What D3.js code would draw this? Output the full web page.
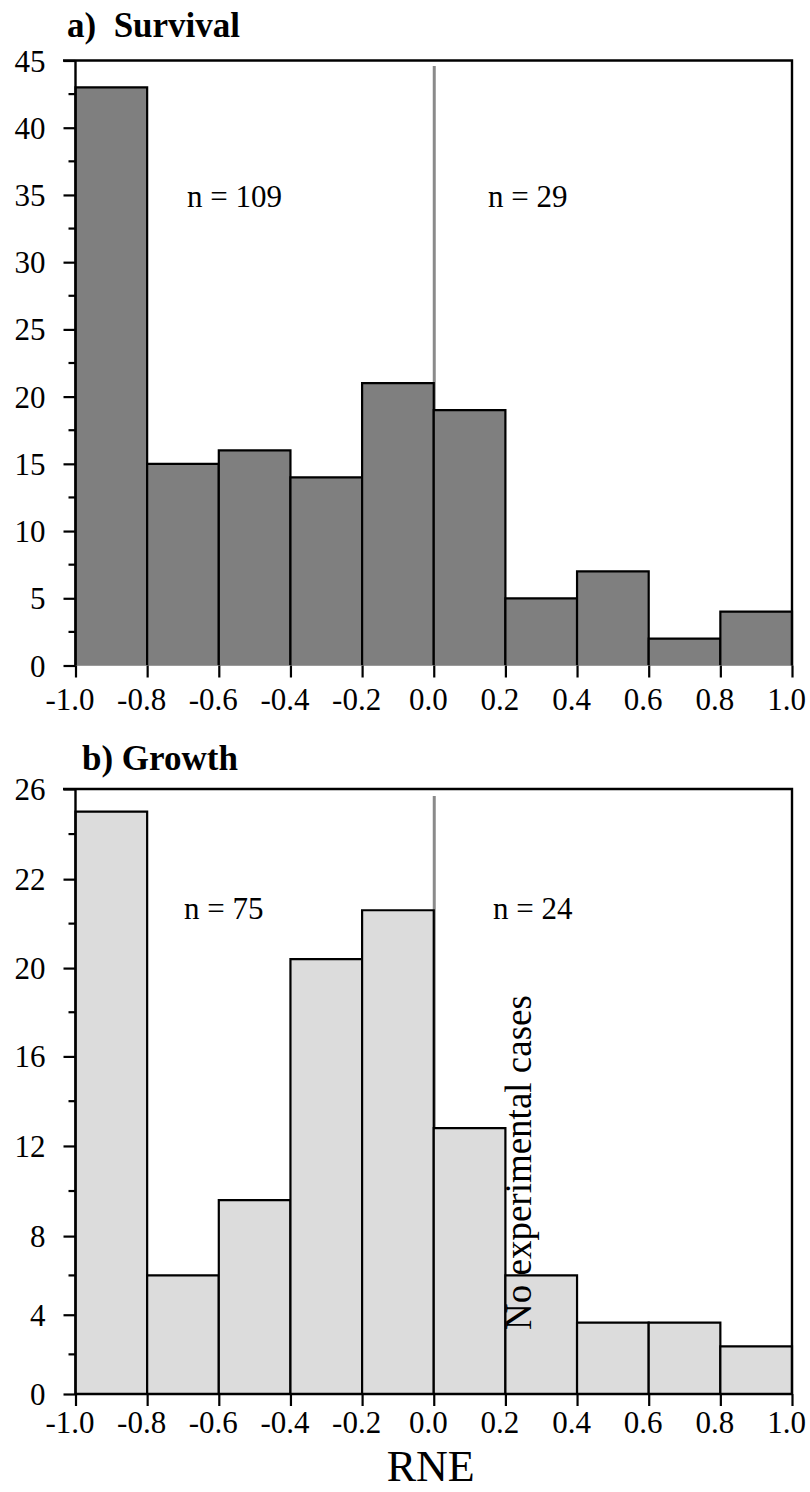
<!DOCTYPE html>
<html>
<head>
<meta charset="utf-8">
<script src="https://cdn.jsdelivr.net/npm/d3@7"></script>
<style>
  body { margin: 0; background: #fff; }
  text { font-family: "Liberation Serif", "Times New Roman", serif; fill: #000; }
</style>
</head>
<body>
<div id="chart"></div>
<script>
// bins and counts
const binEdges = [-1.0, -0.8, -0.6, -0.4, -0.2, 0.0, 0.2, 0.4, 0.6, 0.8, 1.0];
const survivalCounts = [43, 15, 16, 14, 21, 19, 5, 7, 2, 4];
const growthCounts = [25, 6, 9.6, 20.2, 21.3, 12.8, 6, 3.6, 3.6, 2.4];
const xTicks = [-1.0, -0.8, -0.6, -0.4, -0.2, 0.0, 0.2, 0.4, 0.6, 0.8, 1.0];
const xTickLabels = ["-1.0", "-0.8", "-0.6", "-0.4", "-0.2", "0.0", "0.2", "0.4", "0.6", "0.8", "1.0"];
const survivalTicks = [0, 5, 10, 15, 20, 25, 30, 35, 40, 45];
const growthTicks = [0, 4, 8, 12, 16, 20, 22, 26];
const survivalN = ["n = 109", "n = 29"];
const growthN = ["n = 75", "n = 24"];

const width = 810, height = 1492;

const svg = d3.select("#chart")
  .append("svg")
    .attr("width", width)
    .attr("height", height);

// shared x scale
const x = d3.scaleLinear()
  .domain([-1, 1])
  .range([75.5, 792]);

// panel a: plain linear
const ySurv = d3.scaleLinear()
  .domain([0, 45])
  .range([665.5, 60.5]);

// panel b: the original axis is not evenly spaced, so map tick to tick
const gTop = 789, gBottom = 1394;
const gFrac = [1, 0.869, 0.739, 0.590, 0.442, 0.296, 0.149, 0];
const yGrow = d3.scaleLinear()
  .domain(growthTicks)
  .range(gFrac.map(f => gTop + f * (gBottom - gTop)));

function drawPanel(cfg) {
  const y = cfg.y;
  const y0 = y(0);
  const yMax = y(cfg.ticks[cfg.ticks.length - 1]);
  const g = svg.append("g");

  // grey reference line at zero
  g.append("line")
    .attr("x1", x(0) + 0.5).attr("x2", x(0) + 0.5)
    .attr("y1", cfg.refTop).attr("y2", y0)
    .style("stroke", "#8a8a8a")
    .style("stroke-width", 3);

  // bars (open at the bottom)
  g.selectAll("path.bar")
    .data(cfg.counts)
    .enter()
    .append("path")
    .attr("class", "bar")
    .attr("d", (d, i) => {
      const x0 = x(binEdges[i]), x1 = x(binEdges[i + 1]);
      return `M${x0},${y0}V${y(d)}H${x1}V${y0}`;
    })
    .style("fill", cfg.fill)
    .style("stroke", "#000")
    .style("stroke-width", 2.2);

  // baseline
  g.append("line")
    .attr("x1", x(-1)).attr("x2", x(1))
    .attr("y1", y0).attr("y2", y0)
    .style("stroke", cfg.baseColor)
    .style("stroke-width", cfg.baseWidth);

  // frame: left axis, top and right
  g.append("path")
    .attr("d", `M${x(-1)},${y0}V${yMax}M63,${yMax}H${x(1)}V${y0}`)
    .style("fill", "none")
    .style("stroke", "#000")
    .style("stroke-width", 2.4);

  // y axis
  const yAxis = d3.axisLeft(y)
    .tickValues(cfg.ticks)
    .tickFormat(d => d)
    .tickSize(12)
    .tickSizeOuter(0)
    .tickPadding(18);
  const ya = g.append("g")
    .attr("transform", `translate(${x(-1)},0)`)
    .call(yAxis);
  ya.select(".domain").remove();
  ya.selectAll("line").style("stroke", "#000").style("stroke-width", 2.2);
  ya.selectAll("text")
    .style("font-family", "Liberation Serif")
    .style("font-size", "31px")
    .attr("dy", "0.34em");

  // minor ticks halfway between majors
  const minor = d3.pairs(cfg.ticks).map(p => (y(p[0]) + y(p[1])) / 2);
  g.selectAll("line.minor")
    .data(minor)
    .enter()
    .append("line")
    .attr("class", "minor")
    .attr("x1", x(-1) - 7).attr("x2", x(-1))
    .attr("y1", d => d).attr("y2", d => d)
    .style("stroke", "#000")
    .style("stroke-width", 2.2);

  // x axis
  const xAxis = d3.axisBottom(x)
    .tickValues(xTicks)
    .tickFormat((d, i) => xTickLabels[i])
    .tickSize(12)
    .tickSizeOuter(0)
    .tickPadding(cfg.xPad);
  const xa = g.append("g")
    .attr("transform", `translate(0,${y0})`)
    .call(xAxis);
  xa.select(".domain").remove();
  xa.selectAll("line").style("stroke", "#000").style("stroke-width", 2.2);
  xa.selectAll("text")
    .attr("x", -6)
    .style("font-family", "Liberation Serif")
    .style("font-size", "31px");

  // title
  g.append("text")
    .attr("x", cfg.titleX)
    .attr("y", cfg.titleY)
    .style("font-size", "35px")
    .style("font-weight", "bold")
    .style("white-space", "pre")
    .text(cfg.title);

  // n labels
  g.selectAll("text.n")
    .data(cfg.nLabels)
    .enter()
    .append("text")
    .attr("class", "n")
    .attr("x", (d, i) => cfg.nX[i])
    .attr("y", cfg.nY)
    .style("font-size", "31px")
    .text(d => d);
}

drawPanel({
  y: ySurv, counts: survivalCounts, ticks: survivalTicks,
  fill: "#7f7f7f", refTop: 66, baseColor: "#9a9a9a", baseWidth: 1,
  xPad: 10, title: "a)  Survival", titleX: 67, titleY: 37,
  nLabels: survivalN, nX: [187, 488], nY: 207
});

drawPanel({
  y: yGrow, counts: growthCounts, ticks: growthTicks,
  fill: "#dcdcdc", refTop: 796, baseColor: "#000", baseWidth: 2.6,
  xPad: 5, title: "b) Growth", titleX: 82, titleY: 770,
  nLabels: growthN, nX: [184, 493], nY: 919
});

// note over the empty 0.2-0.4 region
svg.append("text")
  .attr("transform", `translate(531,1330) rotate(-90)`)
  .style("font-size", "37px")
  .text("No experimental cases");

// x-axis title
svg.append("text")
  .attr("x", x(0) - 3)
  .attr("y", 1481)
  .style("text-anchor", "middle")
  .style("font-size", "44px")
  .text("RNE");
</script>
</body>
</html>
